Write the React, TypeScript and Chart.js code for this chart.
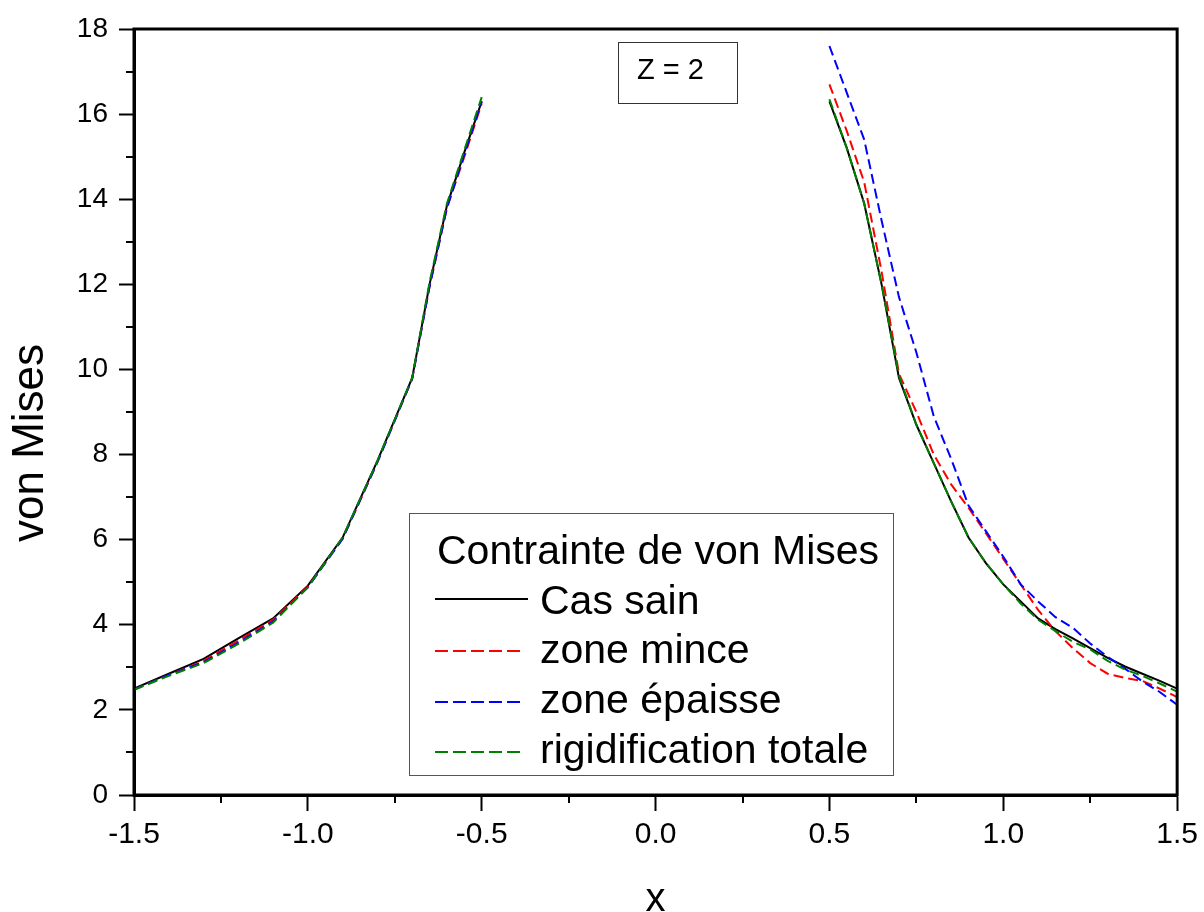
import React, { useEffect, useRef } from "react";
import { Chart, registerables } from "chart.js";

Chart.register(...registerables);

const xLeft = [-1.5, -1.4, -1.3, -1.2, -1.1, -1.0, -0.9, -0.8, -0.7, -0.65, -0.6, -0.55, -0.5];
const xRight = [0.5, 0.55, 0.6, 0.65, 0.7, 0.75, 0.8, 0.85, 0.9, 0.95, 1.0, 1.05, 1.1, 1.15, 1.2, 1.25, 1.3, 1.35, 1.4, 1.45, 1.5];

const sainLeft = [2.5, 2.85, 3.2, 3.68, 4.15, 4.92, 6.05, 7.85, 9.8, 12.0, 13.85, 15.1, 16.3];
const minceLeft = [2.48, 2.82, 3.15, 3.63, 4.12, 4.9, 6.02, 7.82, 9.78, 11.95, 13.8, 15.0, 16.25];
const epaisseLeft = [2.48, 2.82, 3.12, 3.58, 4.08, 4.88, 6.02, 7.82, 9.78, 11.95, 13.8, 15.05, 16.3];
const rigidLeft = [2.47, 2.8, 3.1, 3.55, 4.05, 4.88, 6.05, 7.85, 9.8, 12.05, 13.9, 15.15, 16.4];

const sainRight = [16.3, 15.2, 13.9, 12.0, 9.8, 8.7, 7.8, 6.9, 6.05, 5.45, 4.95, 4.55, 4.15, 3.9, 3.68, 3.45, 3.22, 3.02, 2.85, 2.68, 2.5];
const minceRight = [16.7, 15.6, 14.4, 12.3, 9.9, 9.0, 8.0, 7.3, 6.75, 6.15, 5.55, 4.95, 4.35, 3.85, 3.45, 3.1, 2.85, 2.75, 2.68, 2.5, 2.3];
const epaisseRight = [17.6, 16.5, 15.4, 13.5, 11.7, 10.4, 8.9, 7.9, 6.8, 6.2, 5.6, 4.95, 4.55, 4.18, 3.93, 3.56, 3.25, 2.97, 2.67, 2.42, 2.12];
const rigidRight = [16.35, 15.2, 13.9, 12.0, 9.85, 8.7, 7.8, 6.9, 6.05, 5.45, 4.95, 4.5, 4.12, 3.85, 3.6, 3.42, 3.15, 2.95, 2.8, 2.62, 2.43];

const seriesNames = ["Cas sain", "zone mince", "zone épaisse", "rigidification totale"];
const seriesColors = ["#000000", "#ff0000", "#0000ff", "#008000"];
const legendTitle = "Contrainte de von Mises";
const annotationText = "Z = 2";
const xTitle = "x";
const yTitle = "von Mises";

const FONT = "'Liberation Sans', Arial, sans-serif";

function buildData(left: number[], right: number[]) {
  const pts: { x: number; y: number | null }[] = [];
  xLeft.forEach((x, i) => pts.push({ x, y: left[i] }));
  pts.push({ x: 0, y: null });
  xRight.forEach((x, i) => pts.push({ x, y: right[i] }));
  return pts;
}

const decorPlugin = {
  id: "decor",
  afterDraw(chart: any) {
    const { ctx, chartArea, scales } = chart;
    const xs = scales.x;
    const ys = scales.y;
    ctx.save();
    // frame
    ctx.strokeStyle = "#000";
    ctx.lineWidth = 3;
    ctx.strokeRect(chartArea.left, chartArea.top, chartArea.right - chartArea.left, chartArea.bottom - chartArea.top);
    // minor ticks
    ctx.lineWidth = 2;
    ctx.beginPath();
    for (let v = 1; v < 18; v += 2) {
      const p = Math.round(ys.getPixelForValue(v));
      ctx.moveTo(chartArea.left - 8, p);
      ctx.lineTo(chartArea.left, p);
    }
    for (let v = -1.25; v < 1.5; v += 0.5) {
      const p = Math.round(xs.getPixelForValue(v));
      ctx.moveTo(p, chartArea.bottom);
      ctx.lineTo(p, chartArea.bottom + 8);
    }
    ctx.stroke();

    // axis titles
    ctx.fillStyle = "#000";
    ctx.textBaseline = "alphabetic";
    ctx.textAlign = "center";
    ctx.font = `40px ${FONT}`;
    ctx.fillText(xTitle, (chartArea.left + chartArea.right) / 2, 911);
    ctx.save();
    ctx.translate(43, 443);
    ctx.rotate(-Math.PI / 2);
    ctx.font = `44px ${FONT}`;
    ctx.fillText(yTitle, 0, 0);
    ctx.restore();

    // annotation box
    ctx.textAlign = "left";
    ctx.lineWidth = 1;
    ctx.strokeStyle = "#333";
    ctx.strokeRect(618.5, 42.5, 119, 61);
    ctx.font = `29px ${FONT}`;
    ctx.fillText(annotationText, 637, 79);

    // legend
    ctx.strokeStyle = "#555";
    ctx.lineWidth = 1;
    ctx.strokeRect(409.5, 513.5, 484, 262);
    ctx.font = `41px ${FONT}`;
    ctx.fillStyle = "#000";
    ctx.fillText(legendTitle, 437, 564);
    const baselines = [614, 663, 713, 763];
    const lineYs = [599, 651, 702, 752];
    seriesNames.forEach((name, i) => {
      const y = lineYs[i];
      ctx.beginPath();
      ctx.strokeStyle = seriesColors[i];
      ctx.lineWidth = 2;
      ctx.setLineDash(i === 0 ? [] : [13, 5]);
      ctx.moveTo(435, y);
      ctx.lineTo(i === 0 ? 528 : 523, y);
      ctx.stroke();
      ctx.setLineDash([]);
      ctx.fillStyle = "#000";
      ctx.fillText(name, 540, baselines[i]);
    });
    ctx.restore();
  },
};

export default function App() {
  const ref = useRef<HTMLCanvasElement | null>(null);
  useEffect(() => {
    document.body.style.margin = "0";
    const lefts = [sainLeft, minceLeft, epaisseLeft, rigidLeft];
    const rights = [sainRight, minceRight, epaisseRight, rigidRight];
    const datasets = seriesNames.map((name, i) => ({
      label: name,
      data: buildData(lefts[i], rights[i]),
      borderColor: seriesColors[i],
      backgroundColor: seriesColors[i],
      borderWidth: 2,
      borderDash: i === 0 ? [] : [10, 5],
      pointRadius: 0,
      spanGaps: false,
      tension: 0,
      order: -i,
    }));
    const chart = new Chart(ref.current as HTMLCanvasElement, {
      type: "line",
      data: { datasets },
      options: {
        animation: false,
        responsive: false,
        layout: { padding: { top: 29, right: 26, left: 0, bottom: 0 } },
        plugins: { legend: { display: false }, tooltip: { enabled: false } },
        scales: {
          x: {
            type: "linear",
            min: -1.5,
            max: 1.5,
            afterFit: (s: any) => { s.height = 117; },
            border: { color: "#000", width: 3 },
            grid: { drawOnChartArea: false, drawTicks: true, tickLength: 16, tickWidth: 2, color: "#000" },
            ticks: {
              stepSize: 0.5,
              color: "#000",
              font: { family: FONT, size: 30 },
              padding: 6,
              callback: (v: any) => Number(v).toFixed(1),
            },
          },
          y: {
            min: 0,
            max: 18,
            afterFit: (s: any) => { s.width = 134; },
            border: { color: "#000", width: 3 },
            grid: { drawOnChartArea: false, drawTicks: true, tickLength: 15, tickWidth: 2, color: "#000" },
            ticks: {
              stepSize: 2,
              color: "#000",
              font: { family: FONT, size: 28 },
              padding: 11,
            },
          },
        },
      },
      plugins: [decorPlugin],
    } as any);
    return () => chart.destroy();
  }, []);
  return <canvas ref={ref} width={1204} height={912} style={{ display: "block" }} />;
}
